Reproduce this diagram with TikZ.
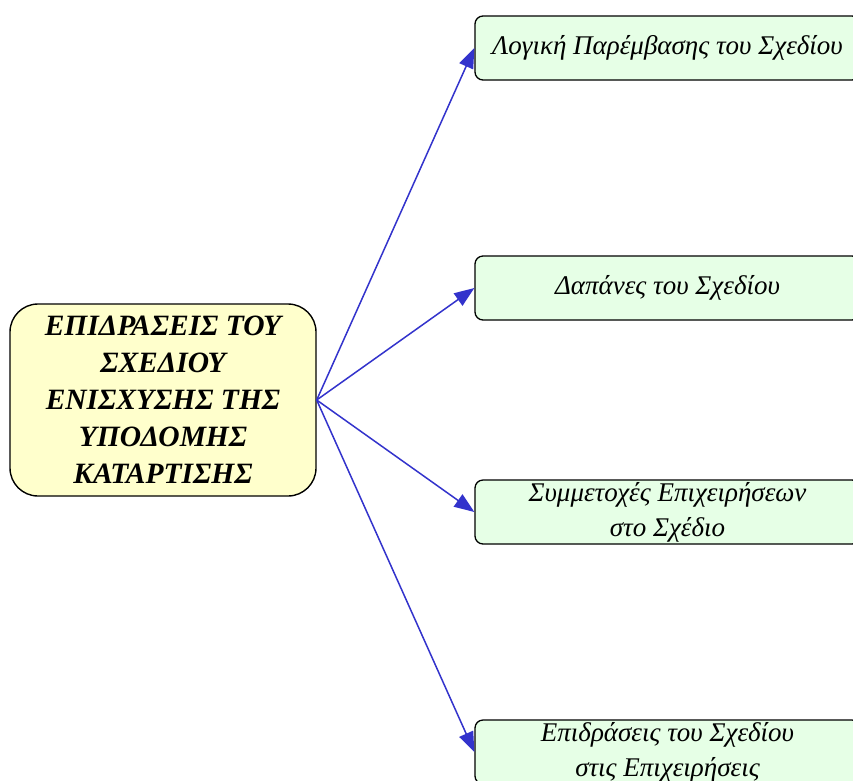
\documentclass[tikz,border=0pt]{standalone}
\usepackage{fontspec}
\setmainfont{Liberation Serif}
\usetikzlibrary{arrows.meta}
\definecolor{cfill}{HTML}{FFFFCC}
\definecolor{bfill}{HTML}{E6FFE6}
\definecolor{arr}{HTML}{3333CC}
\begin{document}
\begin{tikzpicture}[x=1pt,y=-1pt,
  centre/.style={draw=black,line width=1.4pt,fill=cfill,rounded corners=28pt,
    minimum width=306pt,minimum height=192pt,inner sep=0pt,align=center,
    font=\fontsize{29.5}{37}\selectfont\bfseries\itshape},
  leaf/.style={draw=black,line width=1.3pt,fill=bfill,rounded corners=8pt,
    minimum width=385pt,minimum height=64pt,inner sep=0pt,align=center,
    font=\fontsize{27}{35}\selectfont\itshape},
  link/.style={draw=arr,line width=1.5pt,-{Triangle[length=20pt,width=15pt]}}]
\clip (0,0) rectangle (853,780);
\fill[white] (0,0) rectangle (853,780);
\node[centre] (c) at (163,400) {ΕΠΙΔΡΑΣΕΙΣ ΤΟΥ\\ΣΧΕΔΙΟΥ\\ΕΝΙΣΧΥΣΗΣ ΤΗΣ\\ΥΠΟΔΟΜΗΣ\\ΚΑΤΑΡΤΙΣΗΣ};
\node[leaf] (b1) at (667.5,48) {Λογική Παρέμβασης του Σχεδίου};
\node[leaf] (b2) at (667.5,288) {Δαπάνες του Σχεδίου};
\node[leaf] (b3) at (667.5,512) {Συμμετοχές Επιχειρήσεων\\στο Σχέδιο};
\node[leaf] (b4) at (667.5,752) {Επιδράσεις του Σχεδίου\\στις Επιχειρήσεις};
\draw[link] (c.east) -- (b1.west);
\draw[link] (c.east) -- (b2.west);
\draw[link] (c.east) -- (b3.west);
\draw[link] (c.east) -- (b4.west);
\end{tikzpicture}
\end{document}
